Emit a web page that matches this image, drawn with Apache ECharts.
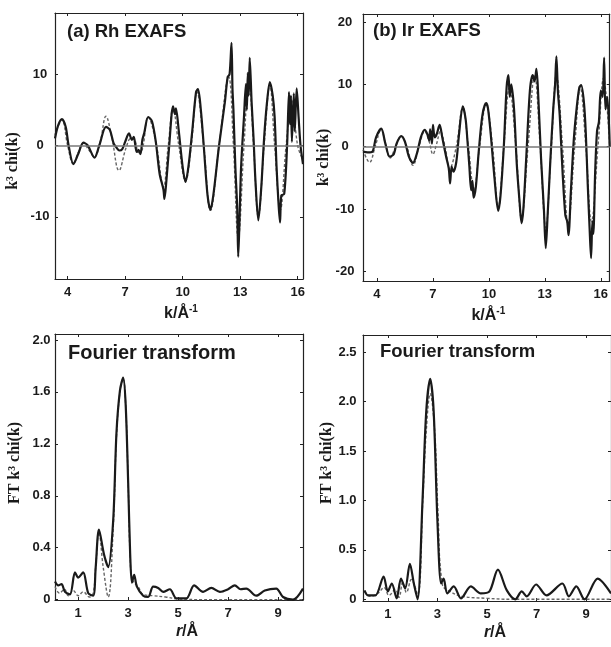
<!DOCTYPE html>
<html>
<head>
<meta charset="utf-8">
<title>Rh / Ir EXAFS</title>
<script src="https://cdn.jsdelivr.net/npm/echarts@6.0.0/dist/echarts.min.js"></script>
<style>
html, body { margin: 0; padding: 0; background: #fff; }
#chart { width: 611px; height: 647px; }
</style>
</head>
<body>
<div id="chart"></div>
<script>
// (a) Rh EXAFS: experiment (solid) and fit (dashed)
const rhK = [3.34,3.5,3.7,3.9,4.05,4.3,4.55,4.82,5.05,5.4,5.65,6.0,6.2,6.4,6.55,6.7,6.85,7.0,7.2,7.35,7.45,7.6,7.7,7.8,7.9,8.0,8.2,8.4,8.6,8.8,9.0,9.05,9.15,9.3,9.5,9.6,9.65,9.8,10.0,10.15,10.3,10.5,10.7,10.8,10.95,11.1,11.3,11.45,11.6,11.9,12.2,12.35,12.45,12.55,12.6,12.65,12.75,12.85,12.9,12.95,13.05,13.2,13.3,13.35,13.4,13.45,13.5,13.6,13.7,13.8,13.95,14.1,14.25,14.4,14.55,14.7,14.8,14.9,15.0,15.08,15.15,15.3,15.45,15.55,15.6,15.65,15.7,15.8,15.85,15.95,16.05,16.15,16.28];
const rhExp = [1.0,2.8,3.7,2.6,0,-2.6,-1.2,0.4,0,-1.7,0,2.6,2.2,0.3,-0.3,-0.7,-0.5,0.5,1.7,0.8,1.2,-0.9,-0.6,-1.2,0.8,1.8,4.0,3.4,0.5,-4.0,-6.2,-7.5,-5,0,5.5,4.4,5.2,2,-3,-5.1,-3,2,7.5,7.9,5,0,-7,-9,-7,0,6,9.6,10,14.4,8,5,-3,-9,-15.6,-12,-3,4,8.6,5,10.2,7,12.3,6,1,-5,-10.5,-6,1,6,8.9,7,4,-3,-8,-10.8,-7,-6.8,0,7.5,3,7,0.5,7.3,2,8,4,0,-2.6];
const rhFitK = [3.34,3.7,4.0,4.3,4.55,4.82,5.1,5.4,5.7,6.0,6.3,6.68,7.05,7.3,7.5,7.7,7.9,8.2,8.6,9.0,9.25,9.5,9.8,10.15,10.45,10.75,11.1,11.45,11.9,12.4,12.65,12.9,13.2,13.45,13.7,13.95,14.25,14.55,14.8,15.1,15.4,15.7,16.0,16.28];
const rhFit = [1.5,3.6,0,-2.6,-1.0,0.3,-0.6,-1.6,0.5,4.1,1.2,-3.5,-0.3,1.0,0.8,-1.0,-0.5,4.0,0.5,-5.8,0,5.2,0,-5.0,0,7.5,0,-9.1,0,9.6,0,-13,0,9.5,0,-10,0,8.5,0,-9,0,6.5,0,-2];

// (b) Ir EXAFS
const irK = [3.25,3.5,3.75,3.95,4.23,4.45,4.68,4.9,5.05,5.3,5.5,5.7,5.93,6.15,6.35,6.56,6.7,6.8,6.85,6.95,7.0,7.1,7.2,7.36,7.5,7.7,7.85,7.92,8.0,8.1,8.25,8.4,8.6,8.75,8.85,8.95,9.05,9.12,9.18,9.3,9.45,9.65,9.85,9.95,10.1,10.3,10.5,10.62,10.8,10.95,11.05,11.12,11.2,11.35,11.5,11.65,11.75,11.85,12.0,12.2,12.35,12.45,12.55,12.65,12.8,12.95,13.05,13.15,13.3,13.45,13.55,13.62,13.7,13.8,13.95,14.1,14.2,14.27,14.4,14.55,14.7,14.85,14.95,15.1,15.2,15.3,15.4,15.48,15.55,15.6,15.7,15.8,15.9,16.0,16.1,16.18,16.25,16.35,16.48];
const irExp = [-0.8,-0.9,-0.8,1.5,2.9,0.5,-1.6,-1.2,0.5,1.7,0.8,-1.5,-2.6,-1,1.5,2.7,2.0,1.0,2.8,0.5,3.5,1.5,2.0,3.5,1.5,-1.5,-3.5,-5.9,-3.2,-4,-2.5,2,6.5,4.5,1,-3,-7,-5.5,-8.2,-6.5,-1,5,7.0,6.2,2,-5,-10.3,-8,0,9.5,11.5,8,10,6,-3,-9,-12.3,-10,-2,9,11.5,10.5,12.5,8,-2,-10,-16.3,-11,-2,6,10,14.5,9,5,-4,-11,-12,-14.2,-7,1,6,9.5,9.9,7,2,-6,-13,-17.9,-12,-14,-4,2.5,4,9,8,14.3,6,8,0];
const irFitK = [3.25,3.6,3.9,4.23,4.45,4.7,5.0,5.3,5.6,5.93,6.25,6.56,6.8,7.0,7.2,7.4,7.65,7.9,8.25,8.6,8.9,9.2,9.5,9.85,10.2,10.5,10.8,11.1,11.45,11.75,12.1,12.45,12.75,13.05,13.35,13.62,13.95,14.25,14.6,14.9,15.2,15.5,15.85,16.15,16.48];
const irFit = [-0.5,-2.5,0,2.8,0.5,-1.8,0,1.7,0,-3.0,0,2.5,0.8,-1.2,0.5,2.5,0,-3.5,0,6.3,0,-7,0,6.8,0,-9.8,0,9.5,0,-11.5,0,11.5,0,-13,0,11.5,0,-12.5,0,9.5,0,-12,0,11,0];

// Fourier transforms
const rhR = [0.07,0.2,0.33,0.47,0.67,0.87,1.0,1.2,1.4,1.6,1.7,1.83,2.03,2.2,2.4,2.53,2.67,2.8,2.9,3.0,3.08,3.15,3.24,3.35,3.6,3.8,4.0,4.2,4.4,4.67,4.93,5.33,5.64,6.0,6.33,6.67,7.0,7.27,7.5,7.73,8.13,8.47,8.93,9.2,9.6,10.0];
const rhFtExp = [0.14,0.11,0.12,0.06,0.04,0.21,0.17,0.21,0.05,0.03,0.25,0.54,0.35,0.25,0.61,1.28,1.61,1.71,1.5,0.9,0.35,0.13,0.19,0.1,0.03,0.02,0.1,0.09,0.06,0.08,0.01,0.01,0.11,0.06,0.09,0.06,0.08,0.11,0.08,0.085,0.03,0.07,0.085,0.02,0.0,0.085];
const rhFitR = [0.07,0.25,0.45,0.6,0.8,1.0,1.2,1.45,1.6,1.7,1.83,2.0,2.2,2.4,2.53,2.67,2.8,2.9,3.0,3.08,3.18,3.4,3.6,4.0,4.5,5.0,6.0,10.0];
const rhFtFit = [0.10,0.05,0.08,0.03,0.07,0.03,0.06,0.02,0.05,0.25,0.52,0.25,0.02,0.55,1.25,1.6,1.70,1.5,0.9,0.32,0.15,0.1,0.04,0.03,0.02,0.005,0,0];

const irR = [0.06,0.2,0.5,0.83,1.0,1.16,1.36,1.53,1.7,1.89,2.05,2.2,2.4,2.55,2.71,2.85,3.0,3.15,3.25,3.4,3.66,3.95,4.35,4.75,5.1,5.44,5.8,6.14,6.4,6.6,6.98,7.4,8.04,8.3,8.6,8.93,9.46,10.0];
const irFtExp = [0.09,0.04,0.04,0.23,0.08,0.16,0.01,0.21,0.11,0.36,0.16,0.0,1.0,1.9,2.23,1.9,0.8,0.16,0.21,0.06,0.13,0.01,0.13,0.06,0.08,0.3,0.09,0.0,0.08,0.03,0.15,0.04,0.16,0.03,0.13,0.0,0.21,0.06];
const irFitR = [0.06,0.3,0.6,0.85,1.05,1.3,1.45,1.6,1.75,1.95,2.2,2.42,2.55,2.71,2.89,3.02,3.2,3.5,4.0,5.0,6.0,10.0];
const irFtFit = [0.08,0.03,0.06,0.12,0.04,0.1,0.02,0.17,0.07,0.2,0.05,1.05,1.7,2.08,1.7,0.9,0.15,0.08,0.03,0.01,0,0];

// tick labels
const kTicks = [4, 7, 10, 13, 16];
const rTicks = [1, 3, 5, 7, 9];
const rhChiTicks = [-10, 0, 10];
const irChiTicks = [-20, -10, 0, 10, 20];
const rhFtTicks = [0, 0.4, 0.8, 1.2, 1.6, 2.0];
const irFtTicks = [0, 0.5, 1.0, 1.5, 2.0, 2.5];

const zip = (xs, ys) => xs.map((x, i) => [x, ys[i]]);

const ink = '#1a1a1a';
const frameLine = { show: true, onZero: false, lineStyle: { color: '#222', width: 1.2 } };
const labelFont = { color: ink, fontFamily: 'Liberation Sans, Arial, sans-serif', fontWeight: 'bold', fontSize: 13 };
const serifName = { color: ink, fontFamily: 'Liberation Serif, Times New Roman, serif', fontWeight: 'bold', fontSize: 16 };
const sansName = { color: ink, fontFamily: 'Liberation Sans, Arial, sans-serif', fontWeight: 'bold', fontSize: 16 };

function xAxis(grid, min, max, ticks, mirror) {
    return {
        type: 'value', gridIndex: grid, min: min, max: max,
        position: mirror ? 'top' : 'bottom',
        axisLine: frameLine,
        axisTick: { show: true, inside: true, length: 3, customValues: ticks, lineStyle: { color: '#222' } },
        axisLabel: Object.assign({ show: !mirror, customValues: ticks, margin: 7 }, labelFont),
        splitLine: { show: false }
    };
}

function yAxis(grid, min, max, ticks, mirror, labelAlign, labelMargin) {
    return {
        type: 'value', gridIndex: grid, min: min, max: max,
        position: mirror ? 'right' : 'left',
        axisLine: frameLine,
        axisTick: { show: true, inside: true, length: 3, customValues: ticks, lineStyle: { color: '#222' } },
        axisLabel: Object.assign({
            show: !mirror, customValues: ticks, margin: labelMargin, align: labelAlign,
            formatter: v => (v === 0 || Number.isInteger(ticks[1])) ? String(v) : v.toFixed(1)
        }, labelFont),
        splitLine: { show: false }
    };
}

const xs = [
    xAxis(0, 3.34, 16.28, kTicks, false),
    xAxis(1, 3.25, 16.48, kTicks, false),
    xAxis(2, 0.07, 10, rTicks, false),
    xAxis(3, 0, 10, rTicks, false),
    xAxis(0, 3.34, 16.28, kTicks, true),
    xAxis(1, 3.25, 16.48, kTicks, true),
    xAxis(2, 0.07, 10, rTicks, true),
    xAxis(3, 0, 10, rTicks, true)
];
const kName = {
    name: '{a|k/Å}{s|-1}', nameLocation: 'middle', nameGap: 25,
    nameTextStyle: { rich: {
        a: Object.assign({}, sansName),
        s: Object.assign({}, sansName, { fontSize: 10, padding: [0, 0, 10, 0] })
    }, padding: [0, 0, 0, 4] }
};
const rName = {
    name: '{i|r}{n|/Å}', nameLocation: 'middle', nameGap: 24,
    nameTextStyle: { rich: {
        i: Object.assign({}, sansName, { fontStyle: 'italic' }),
        n: Object.assign({}, sansName)
    }, padding: [0, 0, 0, 16] }
};
Object.assign(xs[0], kName);
Object.assign(xs[1], kName);
Object.assign(xs[2], rName);
Object.assign(xs[3], rName);

const ys = [
    yAxis(0, -18.72, 18.58, rhChiTicks, false, 'center', 15),
    yAxis(1, -21.57, 21.32, irChiTicks, false, 'center', 18),
    yAxis(2, -0.003, 2.046, rhFtTicks, false, 'right', 4.5),
    yAxis(3, -0.017, 2.675, irFtTicks, false, 'right', 6.5),
    yAxis(0, -18.72, 18.58, rhChiTicks, true),
    yAxis(1, -21.57, 21.32, irChiTicks, true),
    yAxis(2, -0.003, 2.046, rhFtTicks, true),
    yAxis(3, -0.017, 2.675, irFtTicks, true)
];
Object.assign(ys[0], { name: 'k³ chi(k)', nameLocation: 'middle', nameGap: 34,
    nameTextStyle: Object.assign({ padding: [0, 30, 0, 0] }, serifName) });
Object.assign(ys[1], { name: 'k³ chi(k)', nameLocation: 'middle', nameGap: 20,
    nameTextStyle: Object.assign({ padding: [0, 20, 0, 0] }, serifName) });
Object.assign(ys[2], { name: 'FT k³ chi(k)', nameLocation: 'middle', nameGap: 32,
    nameTextStyle: Object.assign({ padding: [0, 0, 0, 8] }, serifName) });
Object.assign(ys[3], { name: 'FT k³ chi(k)', nameLocation: 'middle', nameGap: 26,
    nameTextStyle: Object.assign({ padding: [0, 0, 0, 10] }, serifName) });

function expLine(i, data, zero) {
    const s = {
        type: 'line', xAxisIndex: i, yAxisIndex: i, data: data,
        showSymbol: false, smooth: 0.3, z: 3,
        lineStyle: { color: ink, width: 2.2 }
    };
    if (zero) {
        s.markLine = {
            silent: true, symbol: 'none', label: { show: false },
            lineStyle: { color: '#777', width: 1.5, type: 'solid' },
            data: [{ yAxis: 0 }]
        };
    }
    return s;
}

function fitLine(i, data) {
    return {
        type: 'line', xAxisIndex: i, yAxisIndex: i, data: data,
        showSymbol: false, smooth: 0.4, z: 2,
        lineStyle: { color: '#666', width: 1.4, type: [3, 2] }
    };
}

const titleFont = { color: ink, fontFamily: 'Liberation Sans, Arial, sans-serif', fontWeight: 'bold' };

const chart = echarts.init(document.getElementById('chart'));
chart.setOption({
    animation: false,
    backgroundColor: '#fff',
    title: [
        { text: '(a) Rh EXAFS', left: 67, top: 22, padding: 0, textStyle: Object.assign({ fontSize: 18.5, lineHeight: 20 }, titleFont) },
        { text: '(b) Ir EXAFS', left: 373, top: 21, padding: 0, textStyle: Object.assign({ fontSize: 18.5, lineHeight: 20 }, titleFont) },
        { text: 'Fourier transform', left: 68, top: 342, padding: 0, textStyle: Object.assign({ fontSize: 20, lineHeight: 22 }, titleFont) },
        { text: 'Fourier transform', left: 380, top: 342, padding: 0, textStyle: Object.assign({ fontSize: 18.5, lineHeight: 20 }, titleFont) }
    ],
    grid: [
        { left: 55, top: 13, width: 248, height: 266 },
        { left: 363, top: 14, width: 247, height: 267 },
        { left: 55, top: 334, width: 248, height: 266 },
        { left: 363, top: 335, width: 250, height: 266 }
    ],
    xAxis: xs,
    yAxis: ys,
    series: [
        fitLine(0, zip(rhFitK, rhFit)),
        expLine(0, zip(rhK, rhExp), true),
        fitLine(1, zip(irFitK, irFit)),
        expLine(1, zip(irK, irExp), true),
        fitLine(2, zip(rhFitR, rhFtFit)),
        expLine(2, zip(rhR, rhFtExp), false),
        fitLine(3, zip(irFitR, irFtFit)),
        expLine(3, zip(irR, irFtExp), false)
    ]
});
</script>
</body>
</html>
